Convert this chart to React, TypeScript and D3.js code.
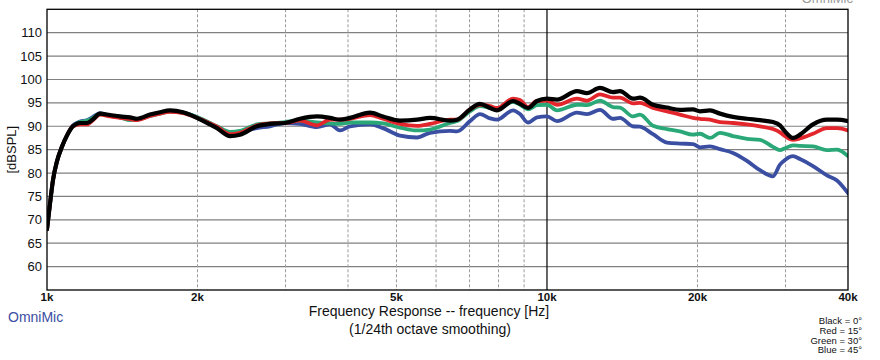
import React from "react";
import * as d3 from "d3";

const freqs = [1000, 1014, 1028, 1047, 1072, 1096, 1127, 1164, 1202, 1236, 1276, 1337, 1400, 1466, 1514, 1607, 1683, 1762, 1871, 1995, 2118, 2188, 2323, 2432, 2630, 2793, 2992, 3206, 3467, 3681, 3855, 4036, 4426, 4699, 5082, 5495, 5834, 6397, 6607, 7015, 7345, 7691, 7943, 8551, 8831, 9162, 9550, 10000, 10471, 11482, 12023, 12764, 13552, 13996, 14859, 15346, 16293, 17378, 18450, 19588, 20230, 21184, 22182, 23550, 25119, 26669, 28314, 29242, 29923, 31046, 32063, 34041, 36308, 38019, 40000];

const black0 = [68, 73.5, 78.5, 82.5, 85.7, 88, 90, 90.7, 90.7, 91.5, 92.7, 92.4, 92.1, 91.9, 91.6, 92.5, 93, 93.4, 93, 91.8, 90.4, 89.6, 87.9, 88.2, 90, 90.5, 90.7, 91.6, 92.1, 91.8, 91.4, 91.8, 92.9, 92.1, 91.2, 91.4, 91.8, 91.2, 91.4, 93.6, 94.8, 93.9, 93.4, 95.4, 94.8, 93.9, 95.4, 95.9, 95.7, 97.5, 97.1, 98.2, 97.3, 97.5, 95.9, 96.1, 94.6, 94.0, 93.5, 93.6, 93.2, 93.4, 92.7, 92.0, 91.6, 91.3, 90.9, 90.2, 88.9, 87.5, 88.2, 90.4, 91.4, 91.4, 91.1];

const red15 = [68, 73.5, 78.5, 82.5, 85.7, 88, 90, 90.4, 90.4, 91.3, 92.5, 92.1, 91.8, 91.5, 91.3, 92.2, 92.7, 93.1, 92.8, 91.8, 90.6, 89.9, 88.3, 88.6, 90.2, 90.6, 90.7, 91.2, 90.2, 91.4, 91.4, 91.6, 92.4, 91.6, 90.5, 90.1, 90.5, 91.4, 91.4, 93.6, 94.6, 94.3, 93.9, 95.9, 95.6, 94.1, 95.4, 95.5, 94.6, 95.9, 95.5, 96.8, 96.1, 96.1, 94.9, 95.0, 93.9, 93.2, 92.5, 91.8, 91.6, 91.4, 90.9, 90.7, 90.4, 90.0, 89.4, 88.7, 87.9, 87.1, 87.4, 88.4, 89.6, 89.6, 89.1];

const green30 = [68, 73.5, 78.5, 82.5, 85.7, 88, 90, 90.9, 91.2, 91.8, 92.7, 92.2, 91.9, 91.3, 91.4, 92.2, 92.7, 93.2, 92.9, 92.0, 90.7, 90.0, 88.8, 89.0, 90.4, 90.6, 90.9, 91.2, 90.8, 90.6, 90.5, 90.8, 90.8, 90.6, 89.7, 89.1, 89.3, 90.7, 91.1, 93.2, 94.3, 93.9, 93.6, 95.2, 94.6, 93.6, 94.5, 94.6, 93.4, 94.6, 94.5, 95.5, 94.1, 94.0, 92.1, 92.5, 90.1, 89.4, 88.9, 88.2, 88.4, 87.5, 88.6, 87.9, 87.3, 87.1, 85.6, 84.9, 85.3, 85.9, 85.8, 85.7, 84.9, 85.0, 83.6];

const blue45 = [68, 73.5, 78.5, 82.5, 85.7, 88, 90.2, 91.0, 91.3, 92.0, 92.8, 92.2, 91.9, 91.6, 91.5, 92.3, 92.8, 93.2, 92.9, 91.9, 90.6, 89.8, 88.6, 88.8, 89.6, 90.0, 90.7, 90.5, 89.8, 90.4, 89.1, 90.0, 90.4, 89.6, 88.0, 87.6, 88.6, 89.0, 88.9, 91.1, 92.6, 91.7, 91.4, 93.4, 92.6, 90.8, 91.9, 92.1, 91.1, 92.9, 92.6, 93.5, 91.6, 91.8, 90.0, 89.9, 88.3, 86.5, 86.3, 86.2, 85.5, 85.7, 85.1, 84.3, 82.6, 80.6, 79.3, 81.8, 82.8, 83.6, 83.0, 81.5, 79.5, 78.4, 75.7];

const yTicks = [60, 65, 70, 75, 80, 85, 90, 95, 100, 105, 110];
const xGridFreqs = [2000, 3000, 4000, 5000, 6000, 7000, 8000, 9000, 20000, 30000];
const xTickFreqs = [1000, 2000, 5000, 10000, 20000, 40000];
const xTickLabels = ["1k", "2k", "5k", "10k", "20k", "40k"];
const legendLines = ["Black = 0°", "Red = 15°", "Green = 30°", "Blue = 45°"];

const seriesList = [
  { name: "Blue", values: blue45, color: "#3a4ea2" },
  { name: "Green", values: green30, color: "#2aa877" },
  { name: "Red", values: red15, color: "#e2262b" },
  { name: "Black", values: black0, color: "#000000" },
];

const W = 880;
const H = 360;
const L = 47;
const R = 848;
const T = 9.3;
const B = 290;

export default function App() {
  const x = d3.scaleLog().domain([1000, 40000]).range([L, R]);
  const y = d3.scaleLinear().domain([55, 115]).range([B, T]);
  const line = d3
    .line<number>()
    .x((_, i) => x(freqs[i]))
    .y((v) => y(v))
    .curve(d3.curveMonotoneX);
  const font = "Arial, 'Liberation Sans', Helvetica, sans-serif";

  return (
    <svg
      width={W}
      height={H}
      style={{ position: "absolute", left: 0, top: 0, background: "#fff" }}
      fontFamily={font}
    >
      <rect x={0} y={0} width={W} height={H} fill="#fff" />
      <defs>
        <clipPath id="plotclip">
          <rect x={L} y={T} width={R - L} height={B - T} />
        </clipPath>
      </defs>
      <text x={853} y={3} textAnchor="end" fontSize={13} fill="#9a9a9a">
        OmniMic
      </text>
      {yTicks.map((t) => (
        <line key={"h" + t} x1={L} x2={R} y1={y(t)} y2={y(t)} stroke="#808080" strokeWidth={1.2} />
      ))}
      {xGridFreqs.map((f) => (
        <line
          key={"v" + f}
          x1={x(f)}
          x2={x(f)}
          y1={T}
          y2={B}
          stroke="#9a9a9a"
          strokeWidth={1}
          strokeDasharray="3,2"
        />
      ))}
      <line x1={x(10000)} x2={x(10000)} y1={T} y2={B} stroke="#000" strokeWidth={1.2} />
      <g clipPath="url(#plotclip)">
        {seriesList.map((s) => (
          <path
            key={s.name}
            d={line(s.values) || ""}
            fill="none"
            stroke={s.color}
            strokeWidth={s.name === "Black" ? 4.2 : 3.8}
            strokeLinejoin="round"
            strokeLinecap="round"
          />
        ))}
      </g>
      <rect x={L} y={T} width={R - L} height={B - T} fill="none" stroke="#000" strokeWidth={1.3} />
      {yTicks.map((t) => (
        <text key={"yl" + t} x={42} y={y(t) + 4.5} textAnchor="end" fontSize={13} fill="#111">
          {t}
        </text>
      ))}
      {xTickFreqs.map((f, i) => (
        <text
          key={"xl" + f}
          x={x(f)}
          y={301}
          textAnchor="middle"
          fontSize={11.5}
          fontWeight="bold"
          fill="#111"
        >
          {xTickLabels[i]}
        </text>
      ))}
      <text
        transform={`translate(16,${(T + B) / 2}) rotate(-90)`}
        textAnchor="middle"
        fontSize={13}
        fill="#111"
      >
        [dBSPL]
      </text>
      <text x={429} y={316} textAnchor="middle" fontSize={14} fill="#111">
        Frequency Response -- frequency [Hz]
      </text>
      <text x={430} y={334} textAnchor="middle" fontSize={14} fill="#111">
        (1/24th octave smoothing)
      </text>
      <text x={8} y={322} fontSize={14} fill="#3a4ea2">
        OmniMic
      </text>
      {legendLines.map((s, i) => (
        <text key={s} x={862} y={324 + i * 9.8} textAnchor="end" fontSize={9.5} fill="#111">
          {s}
        </text>
      ))}
    </svg>
  );
}
